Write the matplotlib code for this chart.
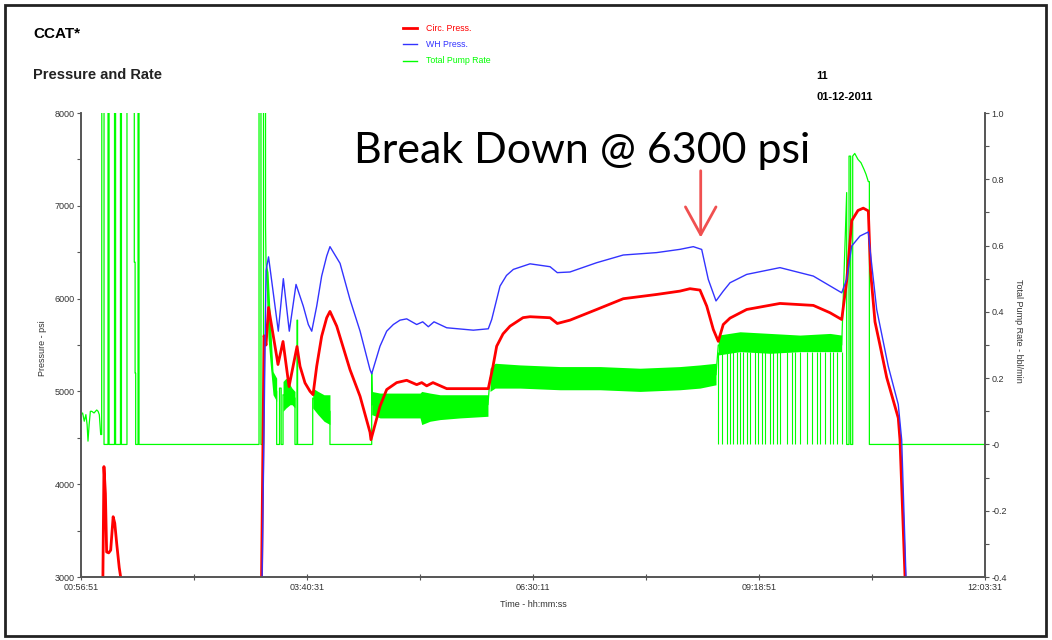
import numpy as np
import matplotlib.pyplot as plt
from matplotlib.patches import Rectangle

# elapsed hours from 00:56:51 (axis runs to 12:03:31)
t_end = 11.111
time_ticks = ["00:56:51", "03:40:31", "06:30:11", "09:18:51", "12:03:31"]
rate_ticks = [-0.4, -0.2, 0.0, 0.2, 0.4, 0.6, 0.8, 1.0]
rate_labels = ["-0.4", "-0.2", "-0", "0.2", "0.4", "0.6", "0.8", "1.0"]

# Circ. Press. (psi)
red_early_t = [0.268, 0.282, 0.300, 0.315, 0.340, 0.365, 0.395, 0.415, 0.440, 0.470, 0.505]
red_early_p = [2900, 4190, 3900, 3270, 3260, 3290, 3650, 3580, 3350, 3100, 2900]

red_t = [2.218, 2.250, 2.274, 2.305, 2.364, 2.405, 2.421, 2.483, 2.557, 2.655, 2.692, 2.753,
         2.815, 2.852, 2.897, 2.958, 3.020, 3.060, 3.143, 3.306, 3.430, 3.552,
         3.564, 3.675, 3.757, 3.880, 4.003, 4.126, 4.188, 4.249, 4.326, 4.495, 5.006, 5.064,
         5.109, 5.187, 5.273, 5.433, 5.519, 5.765, 5.854, 6.010, 6.338, 6.665, 7.076, 7.362,
         7.485, 7.608, 7.691, 7.772, 7.833, 7.894, 7.977, 8.182, 8.591, 9.001, 9.206, 9.350,
         9.411, 9.473, 9.550, 9.615, 9.677, 9.704, 9.759, 9.820, 9.903, 10.045, 10.066,
         10.128, 10.140]
red_p = [2900, 5600, 5500, 5905, 5595, 5379, 5290, 5538, 5052, 5484, 5271, 5092,
         5001, 4965, 5271, 5595, 5794, 5862, 5703, 5235, 4947, 4560,
         4480, 4840, 5020, 5095, 5120, 5073, 5095, 5060, 5095, 5030, 5030, 5271,
         5487, 5620, 5703, 5795, 5805, 5794, 5732, 5768, 5883, 5999, 6045, 6081,
         6107, 6092, 5919, 5667, 5540, 5721, 5790, 5883, 5948, 5927, 5848, 5775,
         6190, 6840, 6950, 6975, 6945, 6300, 5750, 5500, 5150, 4714, 4480,
         3000, 2900]

# WH Press. (psi)
blue_t = [2.225, 2.274, 2.305, 2.425, 2.487, 2.560, 2.643, 2.732, 2.794, 2.836, 2.897, 2.958,
          3.020, 3.060, 3.184, 3.306, 3.430, 3.552, 3.573, 3.675, 3.757,
          3.839, 3.921, 4.003, 4.126, 4.200, 4.269, 4.339, 4.495, 4.822, 5.006, 5.048, 5.150,
          5.230, 5.314, 5.519, 5.765, 5.854, 6.010, 6.338, 6.665, 7.076, 7.362, 7.526, 7.629,
          7.710, 7.805, 7.894, 7.977, 8.182, 8.591, 9.001, 9.350, 9.411, 9.473, 9.575, 9.677,
          9.698, 9.780, 9.922, 10.045, 10.087, 10.140, 10.152]
blue_p = [2900, 6300, 6450, 5649, 6215, 5649, 6153, 5919, 5721, 5649, 5919, 6243,
          6459, 6560, 6380, 5991, 5650, 5235, 5190, 5487, 5649,
          5721, 5768, 5782, 5721, 5750, 5697, 5750, 5686, 5660, 5675, 5775, 6135,
          6250, 6315, 6375, 6344, 6280, 6287, 6387, 6470, 6496, 6531, 6560, 6530,
          6207, 5975, 6081, 6171, 6261, 6334, 6243, 6063, 6207, 6567, 6675, 6718,
          6530, 5883, 5271, 4860, 4480, 3000, 2900]

# Total Pump Rate (bbl/min)
green_t = [0.000, 0.020, 0.040, 0.060, 0.075, 0.086, 0.100, 0.115, 0.132, 0.160, 0.193, 0.210,
           0.225, 0.242, 0.254, 0.256, 0.283, 0.283, 0.332, 0.332, 0.345, 0.345, 0.412, 0.412,
           0.425, 0.425, 0.485, 0.485, 0.497, 0.497, 0.565, 0.565, 0.655, 0.655, 0.665, 0.665,
           0.672, 0.672, 0.701, 0.701, 0.713, 0.713, 2.188, 2.188, 2.212, 2.212, 2.243, 2.243,
           2.268, 2.268, 2.274, 2.323, 2.360, 2.405, 2.405, 2.440, 2.440, 2.460, 2.460, 2.483,
           2.483, 2.630, 2.630, 2.655, 2.655, 2.662, 2.662, 2.848, 2.848, 3.060, 3.060, 3.573,
           3.573, 3.580, 5.002, 5.027, 7.805, 7.833, 9.350, 9.411, 9.411, 9.440, 9.440, 9.460,
           9.460, 9.485, 9.485, 9.510, 9.550, 9.587, 9.624, 9.649, 9.677, 9.690, 9.690, 11.111]
green_r = [0.090, 0.095, 0.070, 0.090, 0.060, 0.010, 0.060, 0.100, 0.100, 0.095, 0.104, 0.100,
           0.090, 0.030, 0.030, 1.2, 1.2, 0.0, 0.0, 1.2, 1.2, 0.0, 0.0, 1.2,
           1.2, 0.0, 0.0, 1.2, 1.2, 0.0, 0.0, 1.2, 1.2, 0.55, 0.55, 0.215,
           0.215, 0.0, 0.0, 1.2, 1.2, 0.0, 0.0, 1.2, 1.2, 0.0, 0.0, 1.2,
           1.2, 0.66, 0.55, 0.33, 0.20, 0.16, 0.0, 0.0, 0.17, 0.17, 0.0, 0.0,
           0.15, 0.14, 0.0, 0.0, 0.375, 0.375, 0.0, 0.0, 0.14, 0.10, 0.0, 0.0,
           0.215, 0.12, 0.12, 0.20, 0.21, 0.30, 0.30, 0.76, 0.0, 0.0, 0.87, 0.87,
           0.0, 0.0, 0.87, 0.878, 0.860, 0.850, 0.830, 0.815, 0.793, 0.793, 0.0, 0.0]

# noisy rate bands: (time, upper, lower)
bands = [
    ([2.274, 2.299, 2.323, 2.360, 2.405], [0.55, 0.52, 0.40, 0.22, 0.20], [0.50, 0.32, 0.25, 0.15, 0.13]),
    ([2.483, 2.520, 2.569, 2.593, 2.630], [0.19, 0.20, 0.18, 0.17, 0.16], [0.10, 0.11, 0.12, 0.12, 0.11]),
    ([2.848, 2.913, 2.987, 3.060], [0.17, 0.16, 0.15, 0.15], [0.11, 0.09, 0.07, 0.06]),
    ([3.573, 3.675, 3.921, 4.167, 4.188, 4.290, 4.413, 4.658, 5.002],
     [0.16, 0.155, 0.155, 0.155, 0.16, 0.155, 0.15, 0.15, 0.15],
     [0.09, 0.08, 0.08, 0.08, 0.06, 0.07, 0.075, 0.08, 0.085]),
    ([5.027, 5.089, 5.396, 5.887, 6.379, 6.871, 7.362, 7.608, 7.805],
     [0.23, 0.245, 0.24, 0.235, 0.235, 0.23, 0.235, 0.24, 0.245],
     [0.16, 0.17, 0.17, 0.165, 0.165, 0.16, 0.165, 0.17, 0.18]),
    ([7.833, 8.100, 8.469, 8.837, 9.206, 9.350],
     [0.33, 0.34, 0.335, 0.33, 0.335, 0.33],
     [0.27, 0.28, 0.275, 0.28, 0.28, 0.28]),
]
# rate dropouts to zero inside the last band
dropout_t = [7.833, 7.875, 7.936, 7.977, 8.017, 8.059, 8.100, 8.140, 8.182, 8.222, 8.284, 8.325,
             8.366, 8.407, 8.469, 8.509, 8.551, 8.591, 8.673, 8.735, 8.776, 8.837, 8.919, 8.981,
             9.042, 9.083, 9.144, 9.206, 9.246, 9.288, 9.350]

breakdown_t, breakdown_p = 7.617, 6658
label_t, label_p = 6.158, 7460

plt.rcParams['font.family'] = ['Liberation Sans Narrow', 'Liberation Sans', 'DejaVu Sans']

fig = plt.figure(figsize=(10.52, 6.4), dpi=100)
ax = fig.add_axes([0.077, 0.0984, 0.8593, 0.725])
ax2 = ax.twinx()
ax.set_zorder(ax2.get_zorder() + 1)
ax.patch.set_visible(False)

green = '#00ff00'
ax2.plot(green_t, green_r, color=green, lw=0.9)
for bt, hi, lo in bands:
    ax2.fill_between(bt, lo, hi, color=green, lw=0)
ax2.vlines(dropout_t, 0, 0.28, color=green, lw=0.8)

ax.plot(red_early_t, red_early_p, color='#ff0000', lw=2.0)
ax.plot(red_t, red_p, color='#ff0000', lw=2.0)
ax.plot(blue_t, blue_p, color='#3333ff', lw=1.0)

ax.set_xlim(0, t_end)
ax.set_ylim(3000, 8000)
ax2.set_ylim(-0.4, 1.0)

xt = np.linspace(0, t_end, 5)
ax.set_xticks(xt)
ax.set_xticklabels(time_ticks)
ax.set_xticks((xt[:-1] + xt[1:]) / 2, minor=True)
ax.set_yticks(np.arange(3000, 8001, 1000))
ax.set_yticks(np.arange(3500, 8000, 1000), minor=True)
ax2.set_yticks(rate_ticks)
ax2.set_yticklabels(rate_labels)
ax2.set_yticks(np.arange(-0.3, 1.0, 0.2), minor=True)

for a in (ax, ax2):
    a.spines['top'].set_visible(False)
    for s in ('left', 'right', 'bottom'):
        a.spines[s].set_color('#555555')
        a.spines[s].set_linewidth(1.2)
    a.tick_params(which='both', labelsize=6.5, colors='#555555', labelcolor='#333333',
                  length=3, width=0.8, pad=1.5)
ax.tick_params(axis='x', which='both', direction='inout', length=4, pad=2)

fig.text(0.040, 0.456, 'Pressure - psi', rotation=90, ha='center', va='center',
         fontsize=6.5, color='#333333')
fig.text(0.9686, 0.483, 'Total Pump Rate - bbl/min', rotation=-90, ha='center', va='center',
         fontsize=6.5, color='#333333')
fig.text(0.507, 0.056, 'Time - hh:mm:ss', ha='center', va='center', fontsize=6.5, color='#333333')

fig.text(0.0314, 0.947, 'CCAT*', fontsize=11, fontweight='bold', va='center',
         family=['Liberation Sans', 'DejaVu Sans'])
fig.text(0.0314, 0.883, 'Pressure and Rate', fontsize=10.5, fontweight='bold', va='center',
         family=['Liberation Sans', 'DejaVu Sans'], color='#222222')
fig.text(0.776, 0.882, '11', fontsize=8, fontweight='bold', va='center')
fig.text(0.776, 0.849, '01-12-2011', fontsize=8, fontweight='bold', va='center')

leg = [('Circ. Press.', '#ff0000', 2.0), ('WH Press.', '#3333ff', 1.0), ('Total Pump Rate', green, 1.0)]
for i, (name, c, w) in enumerate(leg):
    y = 0.956 - i * 0.0255
    fig.add_artist(plt.Line2D([0.383, 0.396], [y, y], color=c, lw=w, transform=fig.transFigure))
    fig.text(0.405, y, name, color=c, fontsize=6.3, va='center')

ax.text(label_t, label_p, 'Break Down @ 6300 psi', ha='center', va='baseline',
        fontsize=31, family=['Lato', 'DejaVu Sans'], color='black')
ax.annotate('', xy=(breakdown_t, breakdown_p), xytext=(breakdown_t, breakdown_p + 720),
            arrowprops=dict(arrowstyle='->,head_length=2.0,head_width=1.1', color='#f05050',
                            lw=2.0, shrinkA=0, shrinkB=0))

fig.add_artist(Rectangle((0.0048, 0.0062), 0.9895, 0.986, transform=fig.transFigure,
                         fill=False, edgecolor='#222222', lw=2.0))

fig.savefig('out.png', dpi=100)
